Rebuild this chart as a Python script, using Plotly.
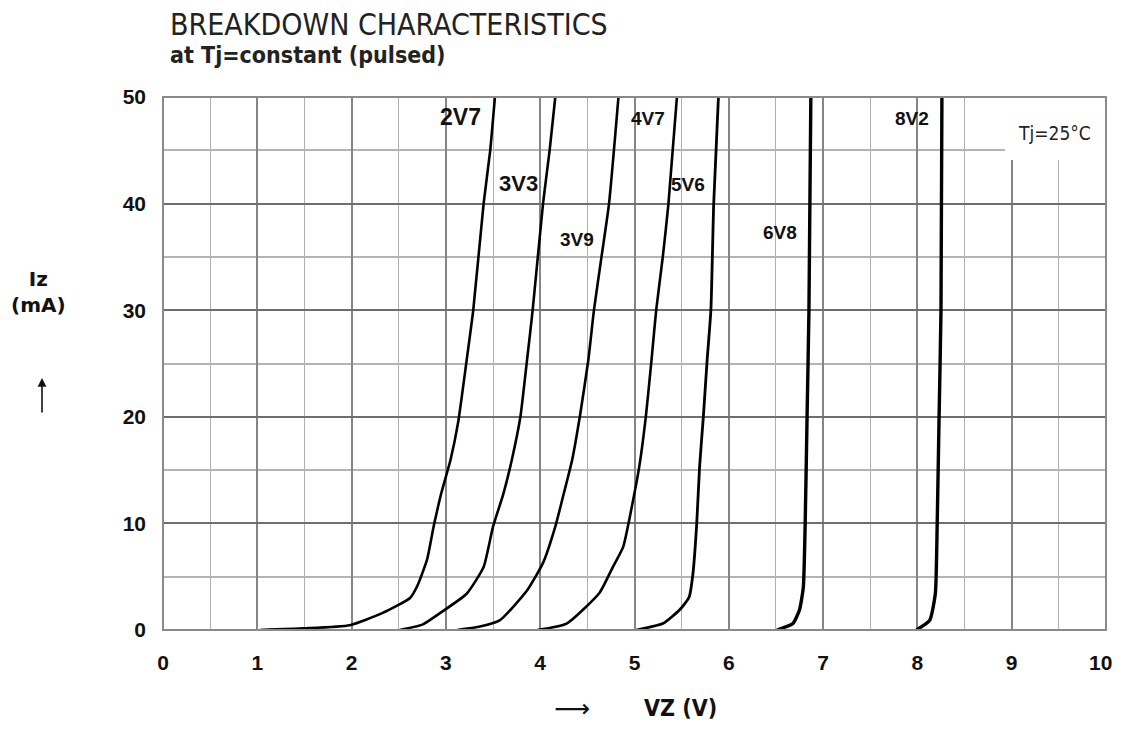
import plotly.graph_objects as go

# ---- data ----
series_names = ["2V7", "3V3", "3V9", "4V7", "5V6", "6V8", "8V2"]

vz_2v7 = [1.03, 1.5, 1.98, 2.33, 2.62, 2.70, 2.80, 2.87, 2.95, 3.05, 3.13, 3.22, 3.29, 3.40, 3.47, 3.52]
iz_2v7 = [0, 0.15, 0.45, 1.6, 3.0, 4.2, 6.6, 9.7, 12.8, 16, 19.5, 25.3, 30, 40, 45, 50]

vz_3v3 = [2.51, 2.75, 2.94, 3.22, 3.40, 3.50, 3.61, 3.70, 3.79, 3.86, 3.92, 4.03, 4.10, 4.16]
iz_3v3 = [0, 0.5, 1.6, 3.4, 5.9, 9.7, 12.8, 16, 20, 25.3, 30, 40, 45, 50]

vz_3v9 = [3.12, 3.35, 3.57, 3.86, 4.03, 4.16, 4.25, 4.34, 4.42, 4.51, 4.57, 4.65, 4.73, 4.83]
iz_3v9 = [0, 0.3, 0.9, 3.7, 6.3, 9.7, 12.8, 16, 20, 25.3, 30, 35, 40, 50]

vz_4v7 = [3.97, 4.28, 4.63, 4.77, 4.88, 4.97, 5.05, 5.12, 5.18, 5.23, 5.30, 5.36, 5.45]
iz_4v7 = [0, 0.6, 3.5, 5.9, 7.8, 11.5, 15.3, 20, 25.3, 30, 35, 40, 50]

vz_5v6 = [5.02, 5.30, 5.48, 5.58, 5.62, 5.66, 5.69, 5.73, 5.77, 5.81, 5.84, 5.89]
iz_5v6 = [0, 0.6, 1.9, 3.1, 5.3, 10, 15.3, 20, 25.3, 30, 40, 50]

vz_6v8 = [6.51, 6.68, 6.75, 6.79, 6.81, 6.83, 6.85, 6.87]
iz_6v8 = [0, 0.6, 1.9, 4, 10, 20, 30, 50]

vz_8v2 = [7.99, 8.13, 8.19, 8.21, 8.23, 8.25, 8.26]
iz_8v2 = [0, 0.9, 3.4, 10, 20, 30, 50]

# label anchor positions (V, mA)
label_x = [3.15, 3.77, 4.39, 5.14, 5.57, 6.54, 7.94]
label_y = [48.1, 41.9, 36.6, 48.0, 41.8, 37.3, 48.0]
label_size = [23, 22, 19, 19, 19, 19, 19]

x_ticks = list(range(0, 11))
y_ticks = [0, 10, 20, 30, 40, 50]

curves = [
    (vz_2v7, iz_2v7), (vz_3v3, iz_3v3), (vz_3v9, iz_3v9), (vz_4v7, iz_4v7),
    (vz_5v6, iz_5v6), (vz_6v8, iz_6v8), (vz_8v2, iz_8v2),
]
widths = [2.6, 2.6, 2.6, 2.6, 2.8, 3.4, 3.4]

# page offset of the figure (browser body margin)
OFF = 8
W, H = 1106, 714
L, R, T, B = 155, 8, 89, 92
pw, ph = W - L - R, H - T - B


def px(xp):
    return (xp - OFF - L) / pw


def py(yp):
    return (H - (yp - OFF) - B) / ph


fig = go.Figure()
for name, (vx, iy), w in zip(series_names, curves, widths):
    fig.add_trace(go.Scatter(
        x=vx, y=iy, mode="lines", name=name,
        line=dict(color="black", width=w, shape="spline", smoothing=0.5),
        showlegend=False, hoverinfo="skip",
    ))

tick_font = dict(family="Liberation Sans, Arial, sans-serif", size=21, color="#111", weight="bold")

# the last x tick label sits on the right figure edge; it is drawn as an annotation
x_ticktext = [str(t) for t in x_ticks[:-1]] + [""]

fig.update_layout(
    width=W, height=H,
    margin=dict(l=L, r=R, t=T, b=B, pad=0),
    paper_bgcolor="white", plot_bgcolor="white",
    xaxis=dict(
        range=[0, 10], tickmode="array", tickvals=x_ticks,
        ticktext=x_ticktext,
        showgrid=True, gridcolor="#858585", gridwidth=1.6,
        minor=dict(dtick=0.5, showgrid=True, gridcolor="#b0b0b0", gridwidth=1.4, tick0=0),
        zeroline=False, showline=False, ticks="", ticklen=0,
        ticklabelstandoff=18,
        tickfont=tick_font, fixedrange=True,
    ),
    yaxis=dict(
        range=[0, 50], tickmode="array", tickvals=y_ticks,
        ticktext=[str(t) for t in y_ticks],
        showgrid=True, gridcolor="#6e6e6e", gridwidth=2,
        minor=dict(dtick=5, showgrid=True, gridcolor="#b4b4b4", gridwidth=1.6, tick0=0),
        zeroline=False, showline=False, ticks="", ticklen=0,
        ticklabelstandoff=16,
        tickfont=tick_font, fixedrange=True,
    ),
)

fig.add_annotation(x=x_ticks[-1], y=py(662), xref="x", yref="paper", text=str(x_ticks[-1]),
                   showarrow=False, xanchor="center", yanchor="middle", xshift=-6,
                   font=tick_font)

# white box behind Tj label
fig.add_shape(type="rect", xref="x", yref="y", x0=8.93, x1=10, y0=44.1, y1=50,
              fillcolor="white", line=dict(width=0), layer="between")
# plot border
fig.add_shape(type="rect", xref="paper", yref="paper", x0=0, x1=1, y0=0, y1=1,
              line=dict(color="#8a8a8a", width=2), layer="above")

for name, lx, ly, ls in zip(series_names, label_x, label_y, label_size):
    fig.add_annotation(x=lx, y=ly, xref="x", yref="y", text=name, showarrow=False,
                       font=dict(family="Liberation Sans, Arial, sans-serif", size=ls,
                                 color="#111", weight="bold"))

fig.add_annotation(x=9.45, y=46.6, xref="x", yref="y", text="Tj=25°C", showarrow=False,
                   font=dict(family="DejaVu Sans Condensed, sans-serif",
                             size=19, color="#222"))

# titles
fig.add_annotation(x=px(168), y=py(25), xref="paper", yref="paper", text="BREAKDOWN CHARACTERISTICS",
                   showarrow=False, xanchor="left", yanchor="middle",
                   font=dict(family="DejaVu Sans Condensed, sans-serif", size=30, color="#222"))
fig.add_annotation(x=px(168), y=py(55), xref="paper", yref="paper", text="at Tj=constant (pulsed)",
                   showarrow=False, xanchor="left", yanchor="middle",
                   font=dict(family="DejaVu Sans Condensed, sans-serif",
                             size=23, color="#222", weight="bold"))

# axis titles
fig.add_annotation(x=px(38), y=py(292), xref="paper", yref="paper", text="Iz<br>(mA)",
                   showarrow=False, xanchor="center", yanchor="middle",
                   font=dict(family="DejaVu Sans, sans-serif", size=20, color="#111", weight="bold"))
# vertical arrow (up)
fig.add_annotation(x=px(42), y=py(378), xref="paper", yref="paper", text="",
                   showarrow=True, ax=0, ay=36, arrowhead=2, arrowsize=1.1,
                   arrowwidth=1.6, arrowcolor="#111", standoff=0)
fig.add_annotation(x=px(572), y=py(708), xref="paper", yref="paper", text="⟶",
                   showarrow=False, xanchor="center", yanchor="middle",
                   font=dict(family="DejaVu Sans, sans-serif", size=25, color="#111"))
fig.add_annotation(x=px(680), y=py(708), xref="paper", yref="paper", text="VZ (V)",
                   showarrow=False, xanchor="center", yanchor="middle",
                   font=dict(family="DejaVu Sans Condensed, sans-serif",
                             size=23, color="#111", weight="bold"))

fig.write_html("out.html")
